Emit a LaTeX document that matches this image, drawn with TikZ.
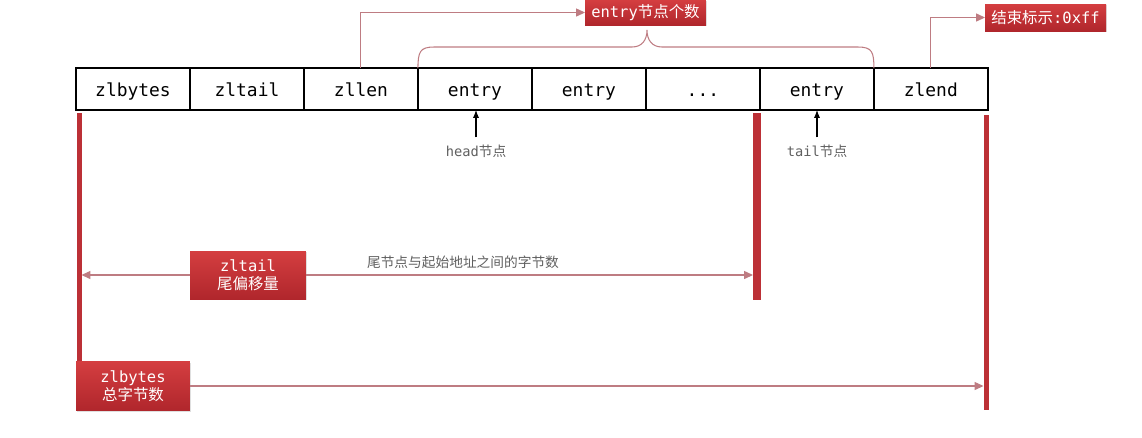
\documentclass[tikz,border=0pt]{standalone}
\usepackage{fontspec}
\setmainfont{DejaVu Sans Mono}
\newfontfamily\cjk{Noto Sans CJK SC}
\usetikzlibrary{arrows.meta,positioning,shadows}
\definecolor{TagTop}{RGB}{212,62,64}
\definecolor{TagBottom}{RGB}{176,38,44}
\definecolor{BarRed}{RGB}{188,48,54}
\definecolor{LinkPink}{RGB}{190,124,130}
\definecolor{NoteGray}{RGB}{95,95,95}
\tikzset{
  cell/.style={draw,line width=1.1pt,minimum width=2.28cm,minimum height=0.84cm,
    inner sep=0pt,outer sep=0pt,text height=1.6ex,text depth=0pt,
    font=\fontsize{10.2}{12}\selectfont},
  tag/.style={top color=TagTop,bottom color=TagBottom,text=white,align=center,
    inner sep=0pt,outer sep=0pt,font=\fontsize{8.8}{10.5}\selectfont,
    drop shadow={opacity=0.25,shadow xshift=0.6pt,shadow yshift=-0.8pt}},
  bar/.style={fill=BarRed,inner sep=0pt,outer sep=0pt},
  link/.style={LinkPink,line width=0.6pt},
  linkto/.style={link,-{Triangle[length=5pt,width=4.5pt]}},
  pointer/.style={-{Latex[length=4.5pt,width=3.5pt]},line width=0.6pt,black},
  note/.style={text=NoteGray,inner sep=1pt,font=\fontsize{7.8}{9}\selectfont}
}
\begin{document}
\begin{tikzpicture}[x=0.02cm,y=-0.02cm]
  \useasboundingbox (0,0) rectangle (1142,437);
  % the list cells
  \node[cell] (zlbytes) at (133,89) {zlbytes};
  \node[cell,right=0pt of zlbytes] (zltail) {zltail};
  \node[cell,right=0pt of zltail] (zllen) {zllen};
  \node[cell,right=0pt of zllen] (e1) {entry};
  \node[cell,right=0pt of e1] (e2) {entry};
  \node[cell,right=0pt of e2] (dots) {...};
  \node[cell,right=0pt of dots] (e3) {entry};
  \node[cell,right=0pt of e3] (zlend) {zlend};

  % top tags
  \node[tag,minimum width=2.42cm,minimum height=0.5cm] (count) at (645.5,12.5)
    {entry{\cjk 节点个数}};
  \node[tag,minimum width=2.42cm,minimum height=0.54cm] (endtag) at (1045.5,17.5)
    {{\cjk 结束标示}:0xff};
  \draw[linkto] (zllen.north) |- (count.west);
  \draw[linkto] (zlend.north) |- (endtag.west);
  \draw[link] (e1.north west) .. controls (418,52) and (420,47) .. (434,47)
    -- (632,47) .. controls (642,47) and (647,40) .. (647,30)
    .. controls (647,40) and (652,47) .. (662,47)
    -- (858,47) .. controls (872,47) and (874,52) .. (e3.north east);

  % head and tail pointers
  \node[note] (headlbl) at (476,151) {head{\cjk 节点}};
  \node[note] (taillbl) at (817,151) {tail{\cjk 节点}};
  \draw[pointer] ([yshift=3pt]headlbl.north) -- (headlbl.north |- e1.south);
  \draw[pointer] ([yshift=3pt]taillbl.north) -- (taillbl.north |- e3.south);

  % offset bars
  \node[bar,minimum width=0.1cm,minimum height=4.98cm] (barL) at (79,237.5) {};
  \node[bar,minimum width=0.16cm,minimum height=3.74cm] (barM) at (757,206.5) {};
  \node[bar,minimum width=0.1cm,minimum height=5.9cm] (barR) at (986,262.5) {};

  % offsets
  \node[tag,minimum width=2.32cm,minimum height=0.96cm] (tailtag) at (248,275)
    {zltail\\{\cjk 尾偏移量}};
  \node[tag,minimum width=2.28cm,minimum height=0.98cm] (bytestag) at (133,386)
    {zlbytes\\{\cjk 总字节数}};
  \draw[linkto] (tailtag.west) -- (tailtag.west -| barL.east);
  \draw[linkto] (tailtag.east) -- (tailtag.east -| barM.west);
  \draw[linkto] (bytestag.east) -- (bytestag.east -| barR.west);
  \node[note] (gap) at (463,262) {\cjk 尾节点与起始地址之间的字节数};
\end{tikzpicture}
\end{document}
